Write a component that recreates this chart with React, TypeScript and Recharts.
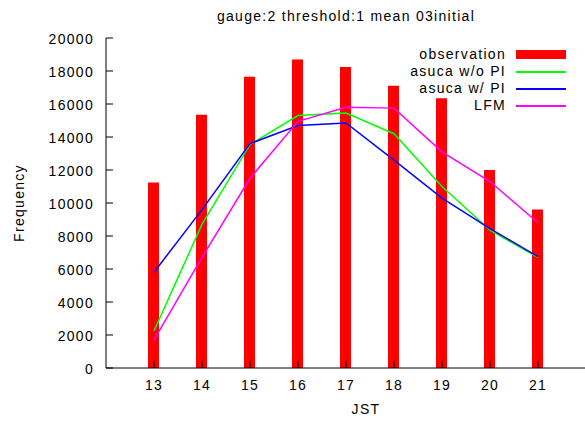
import React from "react";
import { ComposedChart, Bar, Line, XAxis, YAxis, Legend } from "recharts";

// hourly counts
const hours = [13, 14, 15, 16, 17, 18, 19, 20, 21];
const observation = [11250, 15350, 17650, 18700, 18250, 17100, 16350, 12000, 9600];
const asucaNoPI = [2250, 8700, 13550, 15300, 15450, 14200, 11000, 8350, 6700];
const asucaPI = [5800, 9600, 13600, 14700, 14850, 12600, 10300, 8450, 6750];
const lfm = [1700, 6700, 11500, 14950, 15800, 15750, 13100, 11300, 8800];
const yTicks = [0, 2000, 4000, 6000, 8000, 10000, 12000, 14000, 16000, 18000, 20000];
const seriesNames = ["observation", "asuca w/o PI", "asuca w/ PI", "LFM"];
const seriesColors = ["#ff0000", "#00ff00", "#0000ff", "#ff00ff"];

const data = hours.map((h, i) => ({
    jst: h,
    observation: observation[i],
    noPI: asucaNoPI[i],
    withPI: asucaPI[i],
    lfm: lfm[i],
}));

const FONT = "'Liberation Sans', Arial, Helvetica, sans-serif";
const textStyle = { fontFamily: FONT, fontSize: 14, letterSpacing: 1.3, fill: "#000" };

const BottomTick = ({ x, y, payload }: any) => (
    <g>
        <line x1={x} y1={y} x2={x} y2={y - 7} stroke="#000" />
        <text x={x} y={y + 22} textAnchor="middle" style={textStyle}>{payload.value}</text>
    </g>
);

const TopTick = ({ x, y }: any) => <line x1={x} y1={y} x2={x} y2={y + 7} stroke="#000" />;

const LeftTick = ({ x, y, payload }: any) => (
    <g>
        <line x1={x} y1={y} x2={x + 7} y2={y} stroke="#000" />
        <text x={x - 12} y={y + 6} textAnchor="end" style={textStyle}>{payload.value}</text>
    </g>
);

const XLabel = ({ viewBox }: any) => (
    <text x={viewBox.x + viewBox.width / 2 + 20} y={viewBox.y + 46} textAnchor="middle" style={textStyle}>
        JST
    </text>
);

const YLabel = ({ viewBox }: any) => {
    const cx = viewBox.x + 24;
    const cy = viewBox.y + viewBox.height / 2;
    return (
        <text x={cx} y={cy} transform={`rotate(-90 ${cx} ${cy})`} textAnchor="middle" style={textStyle}>
            Frequency
        </text>
    );
};

const LegendBox = () => (
    <div style={{ fontFamily: FONT, fontSize: 14, letterSpacing: 1.3 }}>
        {seriesNames.map((name, i) => (
            <div key={name} style={{ display: "flex", alignItems: "center", height: 17 }}>
                <span style={{ width: 126, textAlign: "right", lineHeight: "17px" }}>{name}</span>
                <span
                    style={{
                        display: "block",
                        marginLeft: 10,
                        width: 50,
                        height: i === 0 ? 9 : 2,
                        backgroundColor: seriesColors[i],
                    }}
                />
            </div>
        ))}
    </div>
);

export default function App() {
    return (
        <div style={{ position: "absolute", left: 0, top: 0, width: 585, height: 421, overflow: "hidden", background: "#fff" }}>
            <div
                style={{
                    position: "absolute",
                    top: 8,
                    left: 346,
                    transform: "translateX(-50%)",
                    whiteSpace: "nowrap",
                    fontFamily: FONT,
                    fontSize: 14,
                    letterSpacing: 1.3,
                    lineHeight: "16px",
                }}
            >
                gauge:2 threshold:1 mean 03initial
            </div>
            <ComposedChart width={586} height={421} data={data} margin={{ top: 38, right: 0, bottom: 0, left: 0 }}>
                <XAxis
                    dataKey="jst"
                    type="number"
                    domain={[12, 22]}
                    ticks={hours}
                    height={53}
                    tickSize={0}
                    tickMargin={0}
                    tickLine={false}
                    tick={<BottomTick />}
                    axisLine={{ stroke: "#000" }}
                    label={<XLabel />}
                    allowDataOverflow
                />
                <XAxis
                    xAxisId="top"
                    orientation="top"
                    dataKey="jst"
                    type="number"
                    domain={[12, 22]}
                    ticks={hours}
                    height={0}
                    tickSize={0}
                    tickMargin={0}
                    tickLine={false}
                    tick={<TopTick />}
                    axisLine={{ stroke: "#000" }}
                    allowDataOverflow
                />
                <YAxis
                    type="number"
                    domain={[0, 20000]}
                    ticks={yTicks}
                    width={106}
                    tickSize={0}
                    tickMargin={0}
                    tickLine={false}
                    tick={<LeftTick />}
                    axisLine={{ stroke: "#000" }}
                    label={<YLabel />}
                    allowDataOverflow
                />
                <Legend
                    layout="horizontal"
                    verticalAlign="middle"
                    align="center"
                    content={<LegendBox />}
                    wrapperStyle={{ top: 46, left: 380, width: 200 }}
                />
                <Bar dataKey="observation" name={seriesNames[0]} fill={seriesColors[0]} barSize={11} isAnimationActive={false} />
                <Line dataKey="noPI" name={seriesNames[1]} stroke={seriesColors[1]} strokeWidth={1.5} dot={false} type="linear" isAnimationActive={false} />
                <Line dataKey="withPI" name={seriesNames[2]} stroke={seriesColors[2]} strokeWidth={1.5} dot={false} type="linear" isAnimationActive={false} />
                <Line dataKey="lfm" name={seriesNames[3]} stroke={seriesColors[3]} strokeWidth={1.5} dot={false} type="linear" isAnimationActive={false} />
            </ComposedChart>
        </div>
    );
}
